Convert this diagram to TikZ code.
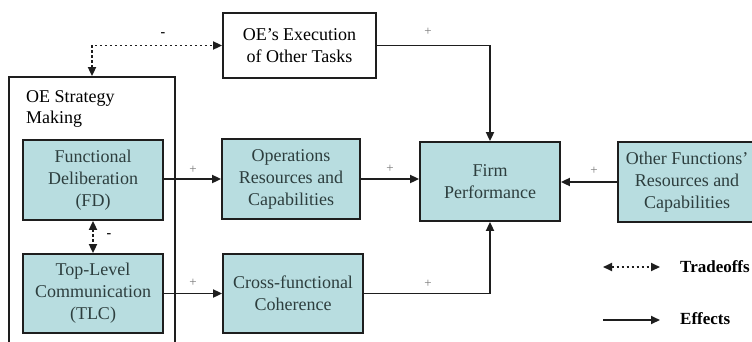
\documentclass[tikz,border=0pt]{standalone}
\usepackage{fontspec}
\setmainfont{Liberation Serif}
\usetikzlibrary{arrows.meta}
\definecolor{boxfill}{RGB}{184,221,224}
\definecolor{boxtext}{RGB}{45,62,62}
\definecolor{linecol}{RGB}{30,30,30}
\definecolor{pluscol}{RGB}{120,120,120}
\tikzset{
  base/.style={draw=linecol, line width=1.8pt, inner sep=0pt, align=center,
    font=\fontsize{18}{22}\selectfont},
  bluebox/.style={base, fill=boxfill, text=boxtext},
  whitebox/.style={base, fill=white, text=black},
  effect/.style={draw=linecol, line width=1.8pt, -{Triangle[length=9pt,width=8pt]}},
  tradeoff/.style={draw=linecol, line width=1.8pt, dash pattern=on 2.5pt off 2.5pt,
    {Triangle[length=9pt,width=8pt]}-{Triangle[length=9pt,width=8pt]}},
  plus/.style={text=pluscol, font=\fontsize{13}{13}\selectfont, inner sep=0pt},
  minus/.style={text=black, font=\bfseries\fontsize{14}{14}\selectfont, inner sep=0pt},
  legendtext/.style={text=black, font=\bfseries\fontsize{17}{20}\selectfont, anchor=west, inner sep=0pt}
}
\begin{document}
\begin{tikzpicture}[x=1pt,y=-1pt]
\useasboundingbox (0,0) rectangle (752,341);
\clip (0,0) rectangle (752,341);
\fill[white] (0,0) rectangle (752,341);

% OE strategy making container
\node[whitebox, minimum width=166pt, minimum height=283pt] (sm) at (92,218.5) {};
\node[anchor=north west, align=left, inner sep=0pt, font=\fontsize{18}{21}\selectfont] (smlabel) at (26,90) {OE Strategy\\Making};

\node[whitebox, minimum width=153pt, minimum height=65pt] (oe) at (299.5,45.5) {OE's Execution\\of Other Tasks};

\node[bluebox, minimum width=140pt, minimum height=80pt] (fd) at (93,180) {Functional\\Deliberation\\(FD)};
\node[bluebox, minimum width=140pt, minimum height=79pt] (tlc) at (93,293.5) {Top-Level\\Communication\\(TLC)};
\node[bluebox, minimum width=138pt, minimum height=80pt] (ops) at (291,179) {Operations\\Resources and\\Capabilities};
\node[bluebox, minimum width=140pt, minimum height=79pt] (cfc) at (293,293.5) {Cross-functional\\Coherence};
\node[bluebox, minimum width=140pt, minimum height=79pt] (fp) at (490,181.5) {Firm\\Performance};
\node[bluebox, minimum width=138pt, minimum height=80pt] (of) at (687,182) {Other Functions'\\Resources and\\Capabilities};

% connectors
\draw[tradeoff] (sm.north) |- (oe.west);
\node[minus] (m1) at (163,35) {-};
\draw[tradeoff] (fd.south) -- (tlc.north);
\node[minus] (m2) at (109,236) {-};

\draw[effect] (fd.east |- ops.west) -- (ops.west);
\node[plus] (p1) at (193,170) {+};
\draw[effect] (tlc.east |- cfc.west) -- (cfc.west);
\node[plus] (p2) at (193,283) {+};
\draw[effect] (ops.east) -- (ops.east -| fp.west);
\node[plus] (p3) at (390,169) {+};
\draw[effect] (oe.east) -| (fp.north);
\node[plus] (p4) at (428,32) {+};
\draw[effect] (cfc.east) -| (fp.south);
\node[plus] (p5) at (428,284) {+};
\draw[effect] (of.west) -- (of.west -| fp.east);
\node[plus] (p6) at (594,171) {+};

% legend
\coordinate (t1) at (603,267);
\coordinate (t2) at (660,267);
\draw[tradeoff] (t1) -- (t2);
\node[legendtext] (tl) at (680,267) {Tradeoffs};
\coordinate (e1) at (603,320);
\coordinate (e2) at (660,320);
\draw[effect] (e1) -- (e2);
\node[legendtext] (el) at (680,319) {Effects};
\end{tikzpicture}
\end{document}
